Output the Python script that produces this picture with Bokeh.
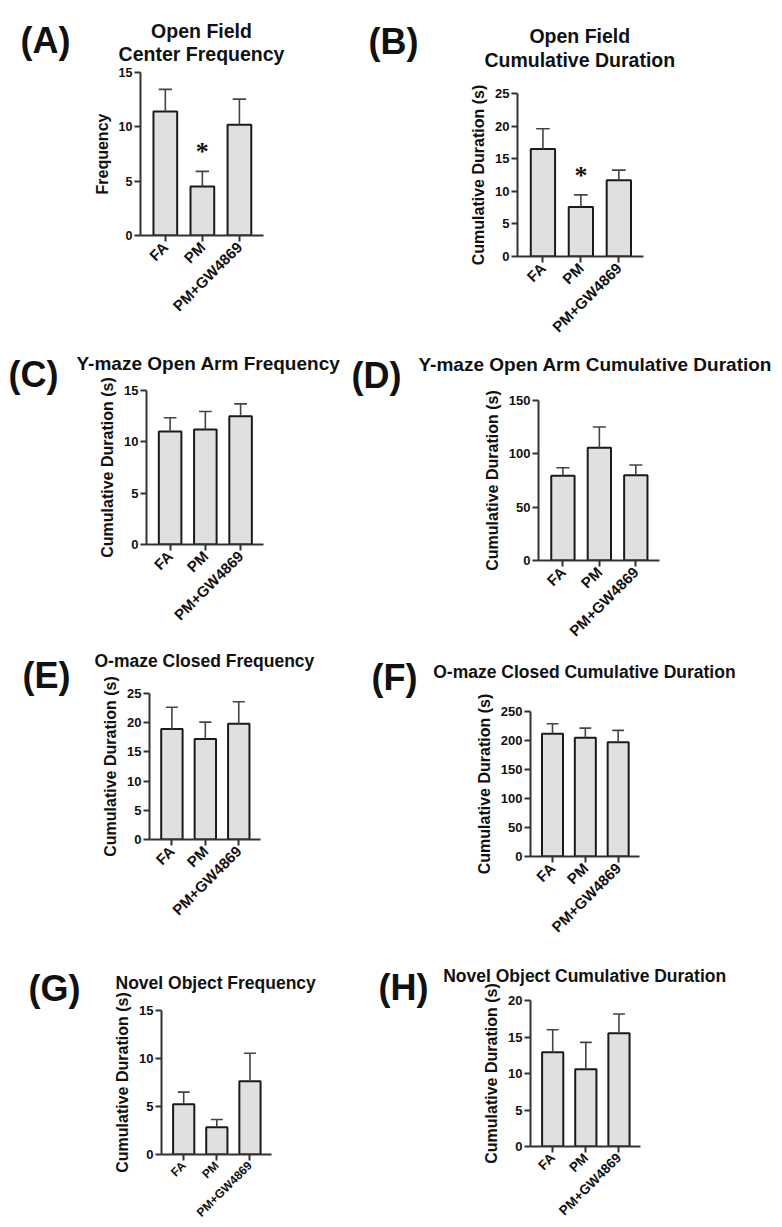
import math
from bokeh.plotting import figure
from bokeh.models import Range1d, FixedTicker, Label
from bokeh.layouts import row, column
from bokeh.embed import file_html
from bokeh.resources import INLINE

FONT = "Liberation Sans"

groups = ["FA", "PM", "PM+GW4869"]

# Means and SEM (top of error bar = mean + sem)
a_mean = [11.4, 4.5, 10.2]
a_sem = [2.05, 1.4, 2.35]
b_mean = [16.5, 7.6, 11.7]
b_sem = [3.1, 1.85, 1.55]
c_mean = [11.0, 11.2, 12.5]
c_sem = [1.35, 1.75, 1.2]
d_mean = [79.4, 105.8, 80.0]
d_sem = [7.5, 19.3, 9.6]
e_mean = [18.9, 17.2, 19.8]
e_sem = [3.75, 2.9, 3.8]
f_mean = [211.7, 204.8, 196.8]
f_sem = [17.2, 16.6, 20.6]
g_mean = [5.24, 2.84, 7.64]
g_sem = [1.26, 0.8, 2.9]
h_mean = [12.9, 10.57, 15.5]
h_sem = [3.1, 3.7, 2.65]

a_ticks = [0, 5, 10, 15]
b_ticks = [0, 5, 10, 15, 20, 25]
c_ticks = [0, 5, 10, 15]
d_ticks = [0, 50, 100, 150]
e_ticks = [0, 5, 10, 15, 20, 25]
f_ticks = [0, 50, 100, 150, 200, 250]
g_ticks = [0, 5, 10, 15]
h_ticks = [0, 5, 10, 15, 20]

a_stars = ["", "*", ""]
b_stars = ["", "*", ""]

X0, X1 = -0.67, 2.65


def panel(mean, sem, ticks, ylabel, letter, title_lines, origin, W, H, L, R, T, B,
          letter_pos, title_pos, title_size, title_align="left", stars=None,
          tick_size="15px", ytick_size="13px"):
    ymax = ticks[-1]
    p = figure(width=W, height=H, output_backend="svg", toolbar_location=None,
               min_border_left=L, min_border_right=R, min_border_top=T,
               min_border_bottom=B, x_range=Range1d(X0, X1),
               y_range=Range1d(0, ymax))
    p.outline_line_color = None
    p.xgrid.visible = False
    p.ygrid.visible = False
    p.background_fill_color = "white"
    p.border_fill_color = "white"
    xs = list(range(len(groups)))
    tops = [m + s for m, s in zip(mean, sem)]
    p.vbar(x=xs, top=mean, bottom=0, width=0.64, fill_color="#e0e0e0",
           line_color="#1a1a1a", line_width=2)
    p.segment(x0=xs, y0=mean, x1=xs, y1=tops, line_color="#444444", line_width=1.6)
    p.segment(x0=[x - 0.18 for x in xs], y0=tops, x1=[x + 0.18 for x in xs],
              y1=tops, line_color="#444444", line_width=1.6)
    if stars is not None:
        p.text(x=xs, y=[t + 0.12 * ymax for t in tops], text=stars,
               text_align="center", text_baseline="alphabetic",
               text_font=FONT, text_font_style="bold", text_font_size="26px",
               text_color="#111111")
    for ax in (p.xaxis[0], p.yaxis[0]):
        ax.axis_line_width = 2
        ax.axis_line_color = "#333333"
        ax.major_tick_line_width = 2
        ax.major_tick_line_color = "#333333"
        ax.major_tick_out = 6
        ax.major_tick_in = 0
        ax.minor_tick_out = 0
        ax.minor_tick_in = 0
        ax.major_label_text_font = FONT
        ax.major_label_text_font_style = "bold"
        ax.major_label_text_color = "#111111"
    p.xaxis.major_label_text_font_size = tick_size
    p.yaxis.major_label_text_font_size = ytick_size
    p.xaxis.ticker = FixedTicker(ticks=xs)
    p.xaxis.major_label_overrides = {i: g for i, g in enumerate(groups)}
    p.xaxis.major_label_orientation = math.pi / 4
    p.xaxis.major_label_standoff = 3
    p.yaxis.ticker = FixedTicker(ticks=ticks)
    p.yaxis.major_label_standoff = 2
    p.yaxis.axis_label = ylabel
    p.yaxis.axis_label_text_font = FONT
    p.yaxis.axis_label_text_font_style = "bold"
    p.yaxis.axis_label_text_font_size = "16px"
    p.yaxis.axis_label_text_color = "#111111"
    p.yaxis.axis_label_standoff = 5

    # page geometry of the frame -> data coordinates for the text
    fw = W - L - R
    fh = H - T - B
    fl = origin[0] + L
    fb = origin[1] + T + fh

    def to_data(px, py):
        return (X0 + (px - fl) * (X1 - X0) / fw, (fb - py) * ymax / fh)

    lx, ly = to_data(*letter_pos)
    p.add_layout(Label(x=lx, y=ly, text=letter, text_font=FONT,
                       text_font_style="bold", text_font_size="36px",
                       text_color="#111111", text_baseline="alphabetic",
                       text_align="left"), "left")
    for line, pos in zip(title_lines, title_pos):
        tx, ty = to_data(*pos)
        p.add_layout(Label(x=tx, y=ty, text=line, text_font=FONT,
                           text_font_style="bold", text_font_size=title_size,
                           text_color="#111111", text_baseline="alphabetic",
                           text_align=title_align), "above")
    return p


pA = panel(a_mean, a_sem, a_ticks, "Frequency", "(A)",
           ["Open Field", "Center Frequency"], (0, 0), 348, 323, 140, 85, 72, 87,
           (20, 40), [(201, 30.7), (201, 53.3)], "19.5px", "center",
           stars=a_stars, ytick_size="12.5px")
pC = panel(c_mean, c_sem, c_ticks, "Cumulative Duration (s)", "(C)",
           ["Y-maze Open Arm Frequency"], (0, 323), 348, 309, 146, 85, 67, 87,
           (8, 374), [(76, 363.3)], "19px")
pE = panel(e_mean, e_sem, e_ticks, "Cumulative Duration (s)", "(E)",
           ["O-maze Closed Frequency"], (0, 632), 348, 303, 149, 88, 61, 96,
           (22, 675), [(94, 660.7)], "17.5px")
pG = panel(g_mean, g_sem, g_ticks, "Cumulative Duration (s)", "(G)",
           ["Novel Object Frequency"], (0, 935), 348, 292, 161, 77, 75, 71,
           (28, 988), [(115, 982.3)], "17.5px", tick_size="12px")

pB = panel(b_mean, b_sem, b_ticks, "Cumulative Duration (s)", "(B)",
           ["Open Field", "Cumulative Duration"], (348, 0), 434, 344, 169, 139, 93, 87,
           (368, 40.5), [(579.3, 35), (579.3, 59.3)], "19.5px", "center",
           stars=b_stars)
pD = panel(d_mean, d_sem, d_ticks, "Cumulative Duration (s)", "(D)",
           ["Y-maze Open Arm Cumulative Duration"], (348, 344), 434, 304, 190, 123, 56, 87,
           (351, 375), [(418, 364)], "19px")
pF = panel(f_mean, f_sem, f_ticks, "Cumulative Duration (s)", "(F)",
           ["O-maze Closed Cumulative Duration"], (348, 648), 434, 296, 182, 143, 63, 87,
           (371, 676.5), [(432.7, 671.7)], "17.5px")
pH = panel(h_mean, h_sem, h_ticks, "Cumulative Duration (s)", "(H)",
           ["Novel Object Cumulative Duration"], (348, 944), 434, 283, 182, 142, 56, 81,
           (378, 987), [(442.7, 975)], "17.5px", tick_size="13.5px")

left = column(row(pA), row(pC), row(pE), row(pG))
right = column(row(pB), row(pD), row(pF), row(pH))
layout = row(left, right)

open("out.html", "w").write(file_html(layout, INLINE))
